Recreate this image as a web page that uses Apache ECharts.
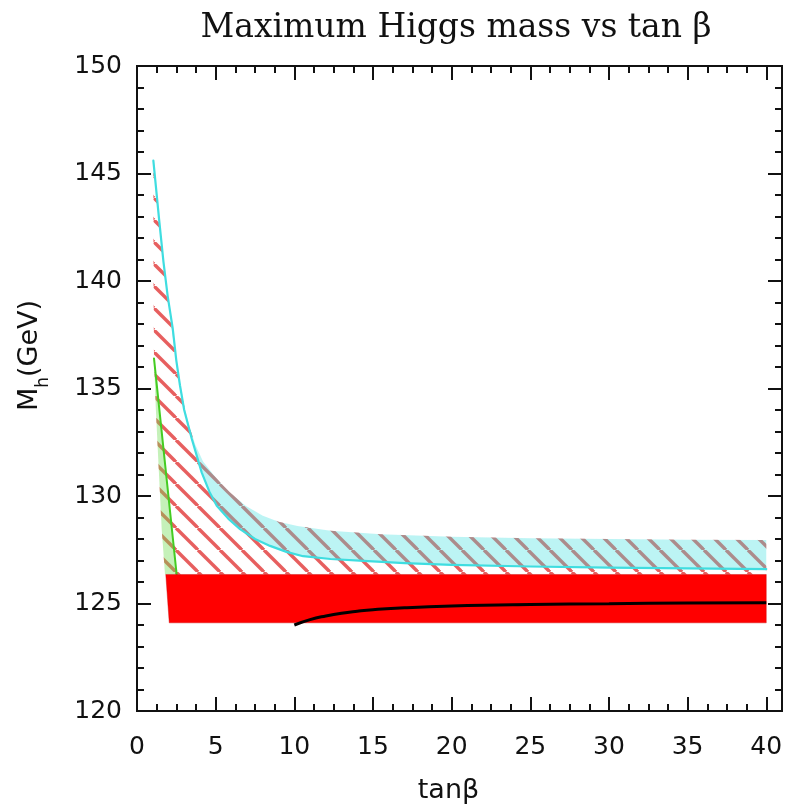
<!DOCTYPE html>
<html>
<head>
<meta charset="utf-8">
<script src="https://cdn.jsdelivr.net/npm/echarts@6/dist/echarts.min.js"></script>
<style>
  html, body { margin: 0; padding: 0; background: #fff; }
  #chart { width: 788px; height: 809px; }
</style>
</head>
<body>
<div id="chart"></div>
<script>
// Axis ranges and tick labels
const xTicks = [0, 5, 10, 15, 20, 25, 30, 35, 40];
const yTicks = [120, 125, 130, 135, 140, 145, 150];

// Upper edge of the allowed region (tanβ, Mh)
const upperEdge = [[1.04,145.6],[1.2,144.4],[1.4,142.9],[1.68,140.9],[1.95,139.3],[2.2,137.8],[2.45,136.5],[2.73,135.3],[3.0,134.2],[3.3,133.3],[3.7,132.4],[4.2,131.6],[4.85,131.0],[5.4,130.55],[5.9,130.17],[6.9,129.55],[8.0,129.08],[9.0,128.8],[10.2,128.6],[12.3,128.38],[15.5,128.22],[20,128.1],[25,128.04],[30,128.0],[35,127.97],[40,127.95]];

// Lower cyan curve
const cyanCurve = [[1.04,145.6],[1.2,144.4],[1.4,142.9],[1.68,140.9],[1.95,139.3],[2.27,137.8],[2.5,136.3],[2.73,135.15],[3.0,134.0],[3.48,132.66],[4.11,131.1],[4.6,130.2],[5.07,129.55],[5.8,128.95],[6.55,128.46],[7.5,128.0],[8.46,127.68],[9.5,127.4],[10.56,127.2],[12.3,127.07],[14.4,126.98],[17,126.88],[20,126.8],[25,126.72],[30,126.67],[35,126.63],[40,126.6]];

// Left boundary of the hatched region, bottom to top
const leftEdge = [[1.78,126.35],[1.57,128.46],[1.36,131.57],[1.2,134.0],[1.08,136.4],[1.05,140.0]];

// Green line
const greenLine = [[1.08,136.4],[2.52,126.35]];

// Red band corners
const redBand = [[1.83,126.35],[40,126.35],[40,124.1],[2.05,124.1]];

// Black curve
const blackCurve = [[10,124.0],[11,124.25],[12,124.42],[13,124.55],[14,124.64],[15,124.71],[17,124.8],[20,124.88],[25,124.95],[30,124.99],[35,125.02],[40,125.04]];

// Derived polygons
const hatchPoly = upperEdge.concat([[40,126.35]], leftEdge);
const cyanPoly = upperEdge.concat(cyanCurve.slice().reverse());
const greenPoly = greenLine.concat(leftEdge.slice(0, 5));

// Diagonal hatch tile
function hatchPattern(period, width, color) {
  const c = document.createElement('canvas');
  c.width = period; c.height = period;
  const ctx = c.getContext('2d');
  ctx.strokeStyle = color;
  ctx.lineWidth = width;
  for (let k = -1; k <= 1; k++) {
    ctx.beginPath();
    ctx.moveTo(k * period, 0);
    ctx.lineTo(k * period + period, period);
    ctx.stroke();
  }
  return c;
}
const hatchTile = hatchPattern(22, 3.4, 'rgba(225,55,55,0.8)');

function polygonSeries(points, style, z) {
  return {
    type: 'custom',
    xAxisIndex: 0, yAxisIndex: 0,
    z: z,
    silent: true,
    data: [0],
    renderItem: function (params, api) {
      return {
        type: 'polygon',
        shape: { points: points.map(p => api.coord(p)) },
        style: style
      };
    }
  };
}
function polylineSeries(points, color, width, z) {
  return {
    type: 'custom',
    xAxisIndex: 0, yAxisIndex: 0,
    z: z,
    silent: true,
    data: [0],
    renderItem: function (params, api) {
      return {
        type: 'polyline',
        shape: { points: points.map(p => api.coord(p)), smooth: 0 },
        style: { stroke: color, lineWidth: width, fill: null, lineJoin: 'round', lineCap: 'round' }
      };
    }
  };
}

const axisColor = '#111';
const labelFont = { fontFamily: 'DejaVu Sans', fontSize: 25, color: axisColor };

function xAxisDef(position, interval, tickLen, withLabels) {
  return {
    type: 'value', position: position, min: 0, max: 41, interval: interval,
    axisLine: { show: true, onZero: false, lineStyle: { color: axisColor, width: 2 } },
    axisTick: { show: true, inside: true, length: tickLen, lineStyle: { color: axisColor, width: 2 } },
    minorTick: { show: false },
    splitLine: { show: false },
    axisLabel: withLabels ? Object.assign({ show: true, margin: 24, showMaxLabel: false,
      formatter: v => (xTicks.indexOf(v) >= 0 ? String(v) : '') }, labelFont) : { show: false }
  };
}
function yAxisDef(position, withLabels) {
  return {
    type: 'value', position: position, min: 120, max: 150, interval: 5,
    axisLine: { show: true, onZero: false, lineStyle: { color: axisColor, width: 2 } },
    axisTick: { show: true, inside: true, length: 14, lineStyle: { color: axisColor, width: 2 } },
    minorTick: { show: true, splitNumber: 5, length: 7, lineStyle: { color: axisColor, width: 2 } },
    splitLine: { show: false },
    axisLabel: withLabels ? Object.assign({ show: true, margin: 15,
      formatter: v => (yTicks.indexOf(v) >= 0 ? String(v) : '') }, labelFont) : { show: false }
  };
}

const xMain = xAxisDef('bottom', 1.25, 7, false);
const xMajor = xAxisDef('bottom', 5, 14, true);
xMajor.name = 'tanβ';
xMajor.nameLocation = 'middle';
xMajor.nameGap = 66;
xMajor.nameTextStyle = { fontFamily: 'DejaVu Sans', fontSize: 27, color: axisColor, padding: [0, 22, 0, 0] };

const yMain = yAxisDef('left', true);
yMain.name = '{m|M}{s|h}{m|(GeV)}';
yMain.nameLocation = 'middle';
yMain.nameRotate = 90;
yMain.nameGap = 85;
yMain.nameTextStyle = {
  fontFamily: 'DejaVu Sans', fontSize: 27, color: axisColor, padding: [0, 0, 0, 66],
  rich: {
    m: { fontFamily: 'DejaVu Sans', fontSize: 27, color: axisColor, lineHeight: 44, verticalAlign: 'middle' },
    s: { fontFamily: 'DejaVu Sans', fontSize: 17, color: axisColor, lineHeight: 44, verticalAlign: 'bottom' }
  }
};

const chart = echarts.init(document.getElementById('chart'), null, { renderer: 'canvas' });
chart.setOption({
  animation: false,
  backgroundColor: '#fff',
  title: {
    text: 'Maximum Higgs mass vs tan β',
    left: 451, top: 7, textAlign: 'center',
    textStyle: { fontFamily: 'DejaVu Serif', fontSize: 33, fontWeight: 'normal', color: '#111' }
  },
  grid: { left: 137, right: 6, top: 66, bottom: 98, containLabel: false },
  xAxis: [xMain, xMajor, xAxisDef('top', 1.25, 7, false), xAxisDef('top', 5, 14, false)],
  yAxis: [yMain, yAxisDef('right', false)],
  series: [
    polygonSeries(hatchPoly, { fill: { image: hatchTile, repeat: 'repeat' }, stroke: null }, 2),
    polygonSeries(cyanPoly, { fill: 'rgba(64,224,224,0.35)', stroke: null }, 3),
    polylineSeries(cyanCurve, '#3fdde0', 2.2, 4),
    polygonSeries(greenPoly, { fill: 'rgba(110,220,80,0.4)', stroke: null }, 5),
    polylineSeries(greenLine, '#44cc22', 2, 6),
    polygonSeries(redBand, { fill: '#ff0000', stroke: 'rgba(200,0,0,0.4)', lineWidth: 1 }, 7),
    {
      type: 'line', xAxisIndex: 0, yAxisIndex: 0, z: 8, silent: true,
      data: blackCurve, smooth: true, showSymbol: false, symbol: 'none',
      lineStyle: { color: '#000', width: 3 }
    }
  ]
});
</script>
</body>
</html>
